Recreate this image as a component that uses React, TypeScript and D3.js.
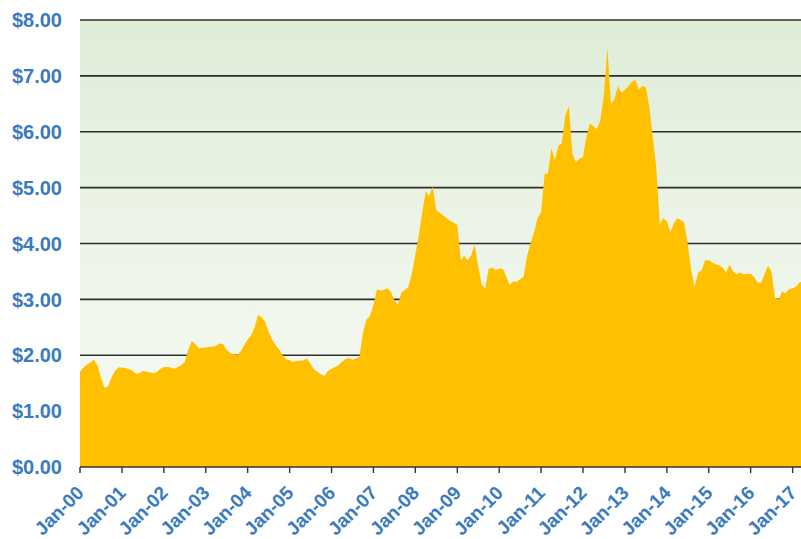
import React, { useEffect, useRef } from 'react';
import * as d3 from 'd3';

// monthly prices, Jan..Dec of each year
const p2000 = [1.70, 1.78, 1.83, 1.87, 1.92, 1.82, 1.60, 1.42, 1.44, 1.60, 1.72, 1.78];
const p2001 = [1.78, 1.77, 1.75, 1.73, 1.67, 1.68, 1.72, 1.71, 1.69, 1.68, 1.70, 1.76];
const p2002 = [1.79, 1.79, 1.78, 1.76, 1.79, 1.82, 1.88, 2.10, 2.25, 2.20, 2.12, 2.14];
const p2003 = [2.14, 2.15, 2.15, 2.17, 2.21, 2.20, 2.10, 2.04, 2.02, 2.00, 2.07, 2.18];
const p2004 = [2.28, 2.36, 2.50, 2.72, 2.68, 2.60, 2.42, 2.28, 2.18, 2.10, 2.00, 1.93];
const p2005 = [1.91, 1.88, 1.90, 1.90, 1.91, 1.94, 1.85, 1.75, 1.70, 1.66, 1.63, 1.72];
const p2006 = [1.76, 1.79, 1.82, 1.88, 1.93, 1.95, 1.92, 1.94, 1.97, 2.40, 2.64, 2.70];
const p2007 = [2.90, 3.18, 3.16, 3.17, 3.20, 3.14, 3.00, 2.90, 3.12, 3.17, 3.22, 3.45];
const p2008 = [3.80, 4.15, 4.55, 4.93, 4.85, 5.02, 4.60, 4.55, 4.50, 4.45, 4.40, 4.37];
const p2009 = [4.33, 3.70, 3.78, 3.70, 3.78, 3.98, 3.60, 3.27, 3.19, 3.55, 3.57, 3.52];
const p2010 = [3.55, 3.55, 3.42, 3.26, 3.32, 3.31, 3.36, 3.40, 3.78, 4.00, 4.20, 4.45];
const p2011 = [4.55, 5.25, 5.25, 5.70, 5.50, 5.75, 5.80, 6.30, 6.45, 5.60, 5.45, 5.52];
const p2012 = [5.55, 5.92, 6.15, 6.10, 6.05, 6.21, 6.65, 7.50, 6.50, 6.58, 6.82, 6.70];
const p2013 = [6.75, 6.82, 6.89, 6.93, 6.76, 6.82, 6.80, 6.45, 5.90, 5.35, 4.35, 4.45];
const p2014 = [4.40, 4.20, 4.35, 4.45, 4.42, 4.38, 4.00, 3.52, 3.23, 3.48, 3.52, 3.70];
const p2015 = [3.70, 3.66, 3.63, 3.61, 3.57, 3.48, 3.62, 3.50, 3.45, 3.48, 3.45, 3.46];
const p2016 = [3.46, 3.40, 3.30, 3.30, 3.45, 3.60, 3.50, 3.03, 3.00, 3.14, 3.11, 3.18];
const p2017 = [3.20, 3.23, 3.30, 3.32];

const yearly = [p2000, p2001, p2002, p2003, p2004, p2005, p2006, p2007, p2008,
  p2009, p2010, p2011, p2012, p2013, p2014, p2015, p2016, p2017];

const yTicks = [0, 1, 2, 3, 4, 5, 6, 7, 8];
const xTickYears = ['00', '01', '02', '03', '04', '05', '06', '07', '08', '09',
  '10', '11', '12', '13', '14', '15', '16', '17'];

const W = 801;
const H = 539;

const App = () => {
  const svgRef = useRef(null);

  useEffect(() => {
    const svg = d3.select(svgRef.current);
    svg.selectAll('*').remove();

    const left = 80, right = 801, top = 20, bottom = 467;
    const labelColor = '#3a7bbf';
    const font = '"Liberation Sans", Arial, sans-serif';

    const data = [];
    yearly.forEach((arr, i) => {
      arr.forEach((v, m) => data.push({ date: new Date(2000 + i, m, 1), value: v }));
    });

    const x = d3.scaleTime()
      .domain([new Date(2000, 0, 1), new Date(2017, 2, 15)])
      .range([left, right]);
    const y = d3.scaleLinear().domain([0, 8]).range([bottom, top]);

    // background gradient
    const defs = svg.append('defs');
    const grad = defs.append('linearGradient')
      .attr('id', 'bg').attr('x1', 0).attr('y1', 0).attr('x2', 0).attr('y2', 1);
    grad.append('stop').attr('offset', '0%').attr('stop-color', '#dfedd7');
    grad.append('stop').attr('offset', '100%').attr('stop-color', '#f9fbf7');
    defs.append('clipPath').attr('id', 'plot')
      .append('rect').attr('x', left).attr('y', top - 2)
      .attr('width', right - left).attr('height', bottom - top + 2);

    svg.append('rect')
      .attr('x', left).attr('y', top)
      .attr('width', right - left).attr('height', bottom - top)
      .attr('fill', 'url(#bg)');

    // gridlines
    svg.append('g').selectAll('line')
      .data(yTicks.filter(d => d > 0))
      .enter().append('line')
      .attr('x1', left).attr('x2', right)
      .attr('y1', d => y(d)).attr('y2', d => y(d))
      .attr('stroke', '#2e2e2e').attr('stroke-width', 1.6);

    // area
    const area = d3.area()
      .x(d => x(d.date))
      .y0(y(0))
      .y1(d => y(d.value))
      .curve(d3.curveLinear);

    svg.append('path')
      .datum(data)
      .attr('clip-path', 'url(#plot)')
      .attr('fill', '#ffc000')
      .attr('d', area);

    // bottom axis line + ticks
    svg.append('line')
      .attr('x1', left).attr('x2', right)
      .attr('y1', bottom).attr('y2', bottom)
      .attr('stroke', '#333').attr('stroke-width', 1.6);

    const tickX = xTickYears.map((t, i) => x(new Date(2000 + i, 0, 1)));
    svg.append('g').selectAll('line')
      .data(tickX)
      .enter().append('line')
      .attr('x1', d => d).attr('x2', d => d)
      .attr('y1', bottom).attr('y2', bottom + 6)
      .attr('stroke', '#333').attr('stroke-width', 1.4);

    // y labels
    svg.append('g').selectAll('text')
      .data(yTicks)
      .enter().append('text')
      .attr('x', 62)
      .attr('y', d => y(d))
      .attr('dy', '0.36em')
      .attr('text-anchor', 'end')
      .attr('fill', labelColor)
      .style('font-family', font)
      .style('font-weight', 'bold')
      .style('font-size', '20px')
      .text(d => '$' + d.toFixed(2));

    // x labels
    svg.append('g').selectAll('text')
      .data(xTickYears)
      .enter().append('text')
      .attr('transform', (d, i) => `translate(${tickX[i] + 5},${bottom + 27}) rotate(-45)`)
      .attr('text-anchor', 'end')
      .attr('fill', labelColor)
      .style('font-family', font)
      .style('font-weight', 'bold')
      .style('font-size', '19px')
      .text(d => 'Jan-' + d);
  }, []);

  return (
    <svg ref={svgRef} width={W} height={H}
      style={{ position: 'absolute', left: 0, top: 0, background: '#fff' }}></svg>
  );
};

export default App;
